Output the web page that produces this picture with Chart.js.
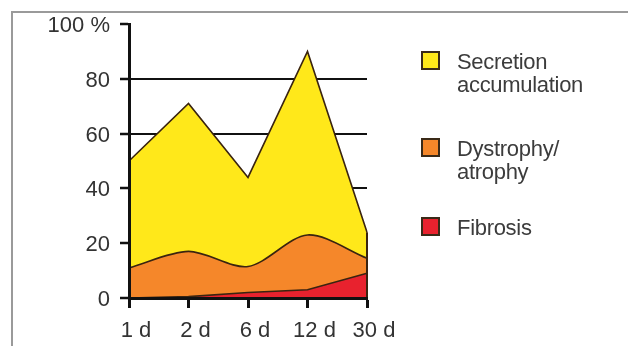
<!DOCTYPE html>
<html>
<head>
<meta charset="utf-8">
<script src="https://cdn.jsdelivr.net/npm/chart.js@4/dist/chart.umd.min.js"></script>
<style>
  html, body { margin: 0; padding: 0; background: #fff; }
  #wrap { position: relative; width: 628px; height: 346px; overflow: hidden; font-family: "Liberation Sans", Arial, sans-serif; }
  #frame { position: absolute; left: 11px; top: 11px; width: 640px; height: 360px; border-left: 2px solid #9a9a9a; border-top: 2px solid #9a9a9a; }
  canvas { position: absolute; left: 0; top: 0; }
  .key { position: absolute; left: 421px; width: 180px; }
  .key .sw { position: absolute; left: 0; width: 15px; height: 15px; border: 2px solid #3a2a18; }
  .key .tx { position: absolute; left: 36px; font-size: 22px; line-height: 23px; color: #3c3c3c; white-space: nowrap; letter-spacing: -0.3px; }
</style>
</head>
<body>
<div id="wrap">
  <div id="frame"></div>
  <canvas id="c" width="628" height="346"></canvas>
  <div id="legend"></div>
</div>
<script>
// Time points after the procedure
const days = ['1 d', '2 d', '6 d', '12 d', '30 d'];
// Share of cases (%) showing each finding
const secretion = [50, 71, 44, 90, 24];
const dystrophy = [11, 17, 11.5, 23, 14.5];
const fibrosis = [0, 0.5, 2, 3, 9];
// Y axis ticks and their labels
const yTicks = [0, 20, 40, 60, 80, 100];
const yTickLabels = ['0', '20', '40', '60', '80', '100 %'];
// Legend entries (multi-line captions)
const legendNames = [['Secretion', 'accumulation'], ['Dystrophy/', 'atrophy'], ['Fibrosis']];

const fills = ['#FFE81A', '#F5872A', '#E8222E'];
const edge = '#3a2410';

// HTML legend beside the plot
const legendTops = [51, 138, 217];
const legendEl = document.getElementById('legend');
legendNames.forEach((lines, i) => {
  const k = document.createElement('div');
  k.className = 'key';
  k.style.top = legendTops[i] + 'px';
  const sw = document.createElement('div');
  sw.className = 'sw';
  sw.style.top = '0px';
  sw.style.background = fills[i];
  const tx = document.createElement('div');
  tx.className = 'tx';
  tx.style.top = '-1px';
  tx.innerHTML = lines.join('<br>');
  k.appendChild(sw);
  k.appendChild(tx);
  legendEl.appendChild(k);
});

// Closes the right-hand side of the outer area with a vertical edge
const rightEdge = {
  id: 'rightEdge',
  afterDatasetsDraw(chart) {
    const meta = chart.getDatasetMeta(0);
    const pt = meta.data[meta.data.length - 1];
    const y0 = chart.scales.y.getPixelForValue(0);
    const ctx = chart.ctx;
    ctx.save();
    ctx.strokeStyle = edge;
    ctx.lineWidth = 2;
    ctx.beginPath();
    ctx.moveTo(pt.x, pt.y);
    ctx.lineTo(pt.x, y0);
    ctx.stroke();
    ctx.restore();
  }
};

const font = { family: '"Liberation Sans", Arial, sans-serif', size: 22 };

// Higher "order" is painted first, so the largest area sits at the back
new Chart(document.getElementById('c'), {
  type: 'line',
  data: {
    labels: days,
    datasets: [
      { label: legendNames[0].join(' '), data: secretion, order: 3, backgroundColor: fills[0], borderColor: edge, borderWidth: 1.6, fill: 'origin', tension: 0, pointRadius: 0 },
      { label: legendNames[1].join(' '), data: dystrophy, order: 2, backgroundColor: fills[1], borderColor: edge, borderWidth: 1.6, fill: 'origin', tension: 0.3, pointRadius: 0 },
      { label: legendNames[2].join(' '), data: fibrosis, order: 1, backgroundColor: fills[2], borderColor: edge, borderWidth: 1.6, fill: 'origin', tension: 0, pointRadius: 0 }
    ]
  },
  options: {
    responsive: false,
    animation: false,
    events: [],
    layout: { padding: { left: 0, right: 261, top: 24, bottom: 0 } },
    plugins: { legend: { display: false }, tooltip: { enabled: false } },
    scales: {
      x: {
        type: 'category',
        offset: false,
        grid: { drawOnChartArea: false, drawTicks: true, tickLength: 10, tickWidth: 3, tickColor: '#111' },
        border: { display: true, color: '#111', width: 3, z: 1 },
        ticks: { color: '#333', font: font, padding: 10, labelOffset: 7, maxRotation: 0, autoSkip: false },
        afterFit(s) { s.height = 48; }
      },
      y: {
        min: 0,
        max: 100,
        afterBuildTicks(s) { s.ticks = yTicks.map(v => ({ value: v })); },
        grid: {
          color: c => (c.tick && (c.tick.value === 0 || c.tick.value === 100)) ? 'rgba(0,0,0,0)' : '#111',
          lineWidth: 2,
          tickLength: 9,
          tickWidth: 2.5,
          tickColor: '#111'
        },
        border: { display: true, color: '#111', width: 3, z: 1 },
        ticks: {
          color: '#333',
          font: font,
          padding: 10,
          labelOffset: 2,
          callback: (v) => yTickLabels[yTicks.indexOf(v)]
        },
        afterFit(s) { s.width = 129; }
      }
    }
  },
  plugins: [rightEdge]
});
</script>
</body>
</html>
